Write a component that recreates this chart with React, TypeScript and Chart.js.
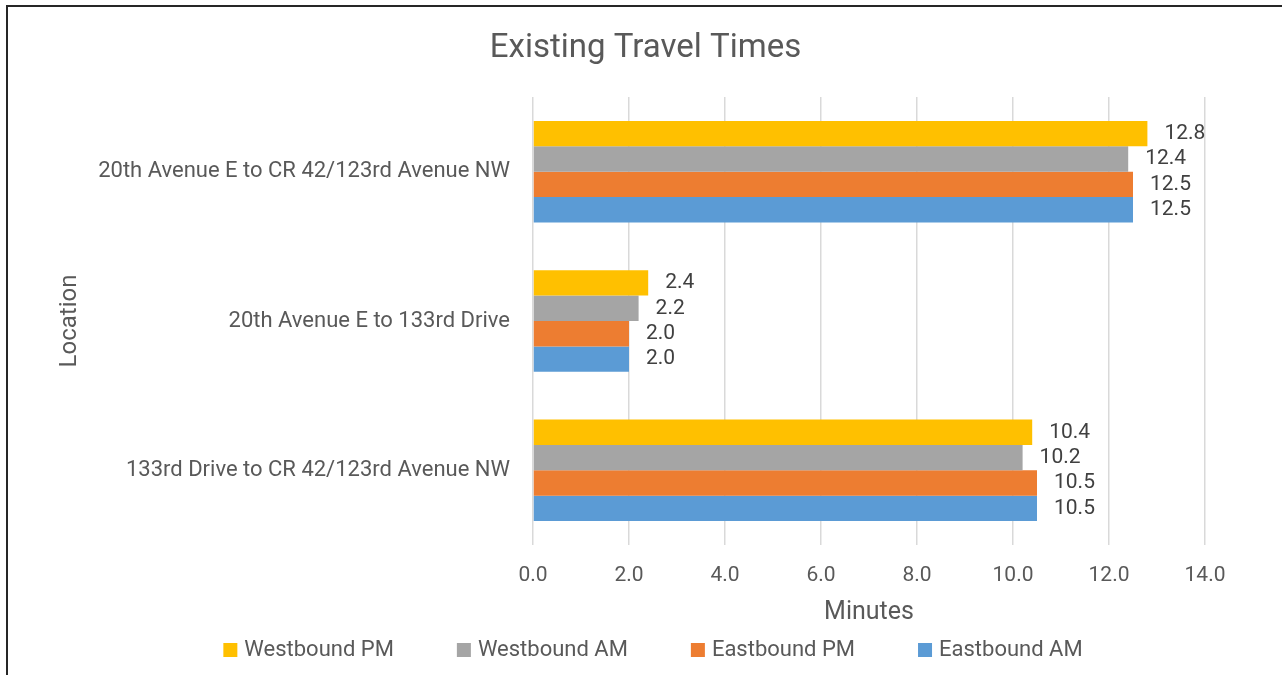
import { useEffect, useRef } from "react";
import { Chart, registerables } from "chart.js";

Chart.register(...registerables);

const categories = [
  "20th Avenue E to CR 42/123rd Avenue NW",
  "20th Avenue E to 133rd Drive",
  "133rd Drive to CR 42/123rd Avenue NW",
];
const seriesNames = ["Westbound PM", "Westbound AM", "Eastbound PM", "Eastbound AM"];
const westboundPM = [12.8, 2.4, 10.4];
const westboundAM = [12.4, 2.2, 10.2];
const eastboundPM = [12.5, 2.0, 10.5];
const eastboundAM = [12.5, 2.0, 10.5];
const seriesColors = ["#FFC000", "#A5A5A5", "#ED7D31", "#5B9BD5"];
const xMin = 0;
const xMax = 14;
const xStep = 2;
const chartTitle = "Existing Travel Times";
const xTitle = "Minutes";
const yTitle = "Location";

const FONT = "Roboto";
const TEXT = "#595959";

const dataLabelPlugin = {
  id: "dataLabels",
  afterDatasetsDraw(chart: any) {
    const ctx = chart.ctx;
    ctx.save();
    ctx.font = `21px ${FONT}`;
    ctx.fillStyle = "#404040";
    ctx.textAlign = "left";
    ctx.textBaseline = "middle";
    chart.data.datasets.forEach((ds: any, i: number) => {
      const meta = chart.getDatasetMeta(i);
      meta.data.forEach((bar: any, j: number) => {
        ctx.fillText(Number(ds.data[j]).toFixed(1), bar.x + 17, bar.y);
      });
    });
    ctx.restore();
  },
};

const legendPlugin = {
  id: "customLegend",
  afterDraw(chart: any) {
    const ctx = chart.ctx;
    ctx.save();
    ctx.font = `22px ${FONT}`;
    ctx.textBaseline = "middle";
    ctx.textAlign = "left";
    const box = 14;
    const gap = 7;
    const spacing = 63;
    const items = chart.data.datasets.map((ds: any) => ({
      text: ds.label,
      color: ds.backgroundColor,
      w: box + gap + ctx.measureText(ds.label).width,
    }));
    const total = items.reduce((s: number, it: any) => s + it.w, 0) + spacing * (items.length - 1);
    const cx = 653;
    const cy = 650;
    let x = cx - total / 2;
    items.forEach((it: any) => {
      ctx.fillStyle = it.color;
      ctx.fillRect(x, cy - box / 2, box, box);
      ctx.fillStyle = TEXT;
      ctx.fillText(it.text, x + box + gap, cy);
      x += it.w + spacing;
    });
    ctx.restore();
  },
};

export default function App() {
  const canvasRef = useRef<HTMLCanvasElement | null>(null);

  useEffect(() => {
    let chart: Chart | null = null;
    let cancelled = false;
    const build = () => {
      if (cancelled || !canvasRef.current) return;
      const seriesValues = [westboundPM, westboundAM, eastboundPM, eastboundAM];
      chart = new Chart(canvasRef.current, {
        type: "bar",
        data: {
          labels: categories,
          datasets: seriesNames.map((name, i) => ({
            label: name,
            data: seriesValues[i],
            backgroundColor: seriesColors[i],
            borderWidth: 0,
            categoryPercentage: 0.68,
            barPercentage: 1,
          })),
        },
        options: {
          indexAxis: "y",
          responsive: false,
          animation: false,
          layout: { padding: { left: 9, right: 0, top: 0, bottom: 0 } },
          plugins: {
            legend: { display: false },
            tooltip: { enabled: false },
            title: {
              display: true,
              text: chartTitle,
              color: TEXT,
              font: { family: FONT, size: 33, weight: "normal", lineHeight: 1.2 },
              padding: { top: 29, bottom: 28.4 },
            },
          },
          scales: {
            x: {
              type: "linear",
              min: xMin,
              max: xMax,
              ticks: {
                stepSize: xStep,
                color: TEXT,
                font: { family: FONT, size: 21, lineHeight: 1.2 },
                padding: 18,
                callback: (v: any) => Number(v).toFixed(1),
              },
              grid: { color: "#d9d9d9", lineWidth: 1.5, drawTicks: false },
              border: { display: false },
              title: {
                display: true,
                text: xTitle,
                color: TEXT,
                font: { family: FONT, size: 25, lineHeight: 1.2 },
                padding: { top: 0, bottom: 47 },
              },
              afterFit: (s: any) => {
                s.height = 130;
              },
            },
            y: {
              type: "category",
              ticks: {
                color: TEXT,
                font: { family: FONT, size: 22, lineHeight: 1.2 },
                padding: 23,
              },
              grid: { display: false, drawTicks: false },
              border: { display: false },
              title: {
                display: true,
                text: yTitle,
                color: TEXT,
                font: { family: FONT, size: 24, lineHeight: 1.2 },
                padding: { top: 47, bottom: 0 },
              },
              afterFit: (s: any) => {
                s.width = 524;
              },
            },
            y2: {
              type: "category",
              position: "right",
              ticks: { display: false },
              grid: { display: false },
              border: { display: false },
              afterFit: (s: any) => {
                s.width = 77;
              },
            },
          },
        } as any,
        plugins: [dataLabelPlugin, legendPlugin],
      });
    };
    const fontsApi = (document as any).fonts;
    if (fontsApi && fontsApi.load) {
      Promise.all([
        fontsApi.load(`22px ${FONT}`),
        fontsApi.load(`33px ${FONT}`),
      ])
        .catch(() => {})
        .then(build);
    } else {
      build();
    }
    return () => {
      cancelled = true;
      if (chart) chart.destroy();
    };
  }, []);

  return (
    <div
      style={{
        position: "fixed",
        left: 0,
        top: 0,
        width: 1282,
        height: 675,
        background: "#ffffff",
        overflow: "hidden",
      }}
    >
      <canvas ref={canvasRef} width={1282} height={675} style={{ display: "block" }} />
      <div
        style={{
          position: "absolute",
          left: 6,
          top: 5,
          right: -10,
          bottom: -10,
          borderTop: "2px solid #262626",
          borderLeft: "2px solid #262626",
          pointerEvents: "none",
        }}
      />
    </div>
  );
}
